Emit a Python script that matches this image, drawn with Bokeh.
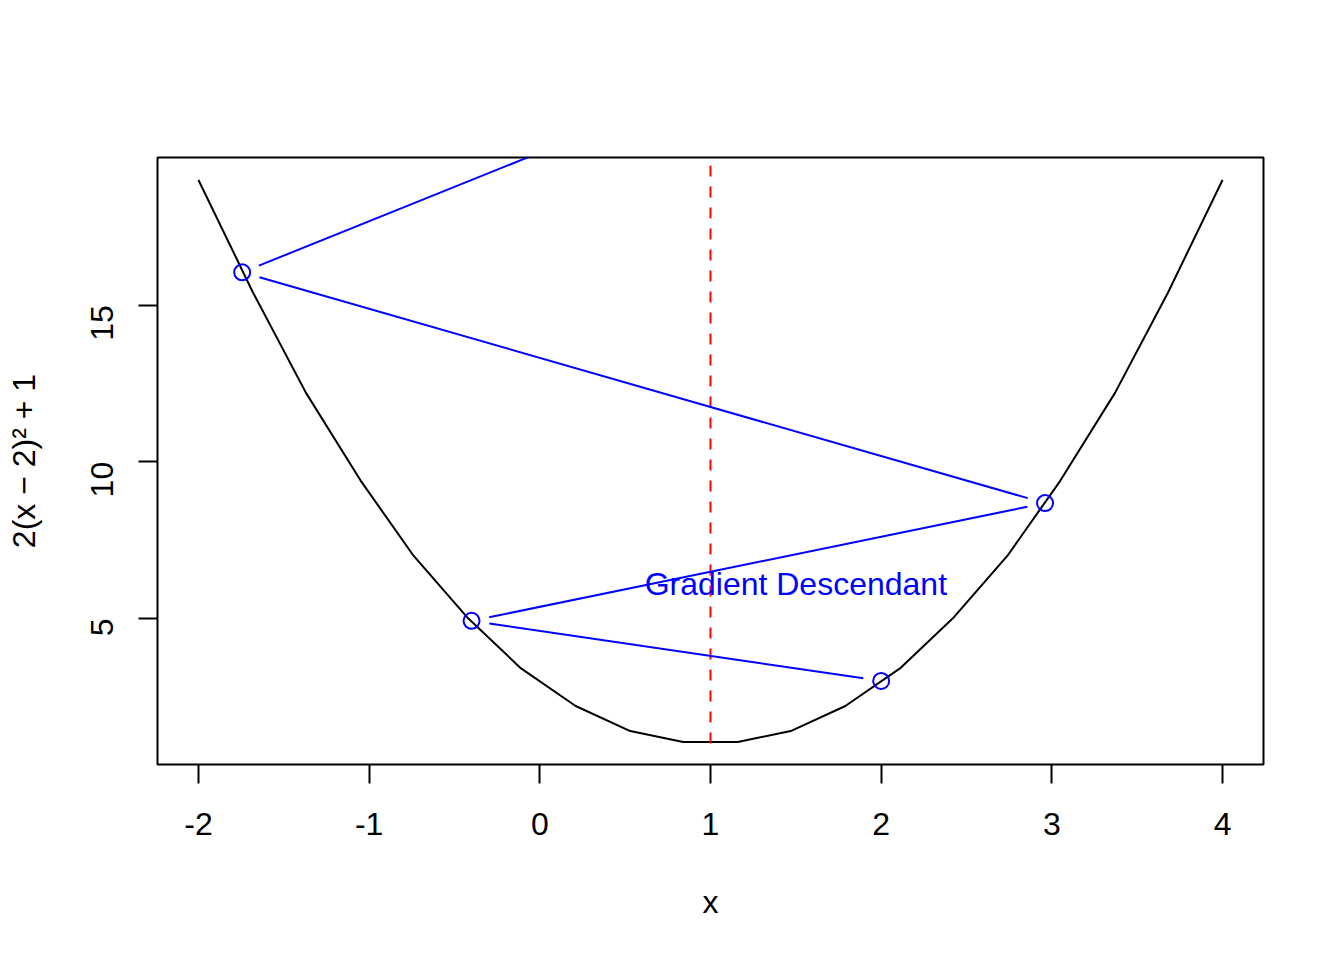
import math
from bokeh.plotting import figure
from bokeh.models import Range1d, FixedTicker
from bokeh.core.properties import value
from bokeh.embed import file_html
from bokeh.resources import INLINE

# ---- data ----
curve_x = [-2.00, -1.68, -1.37, -1.05, -0.74, -0.42, -0.11, 0.21, 0.53, 0.84,
           1.16, 1.47, 1.79, 2.11, 2.42, 2.74, 3.05, 3.37, 3.68, 4.00]
curve_y = [19.0, 15.4, 12.2, 9.4, 7.0, 5.0, 3.4, 2.2, 1.4, 1.05,
           1.05, 1.4, 2.2, 3.4, 5.0, 7.0, 9.4, 12.2, 15.4, 19.0]

gd_x = [2.0, -0.4, 2.96, -1.744, 4.842]
gd_y = [3.0, 4.92, 8.68, 16.05, 30.5]

vline_x = [1.0]
vline_y0 = [1.0]
vline_y1 = [20.0]

label_x = [1.5]
label_y = [6.1]
label_text = ["Gradient Descendant"]

x_ticks = [-2, -1, 0, 1, 2, 3, 4]
x_tick_labels = ["-2", "-1", "0", "1", "2", "3", "4"]
y_ticks = [5, 10, 15]

# ---- layout ----
W, H = 1328, 944
ML, MR, MT, MB = 157, 65, 157, 180
FW, FH = W - ML - MR, H - MT - MB
XR = (-2.24, 4.24)
YR = (0.332, 19.718)
FONT = "Liberation Sans"
FS = "32px"

p = figure(width=W, height=H, output_backend="svg", toolbar_location=None,
           x_range=Range1d(*XR), y_range=Range1d(*YR),
           min_border_left=ML, min_border_right=MR,
           min_border_top=MT, min_border_bottom=MB)
p.background_fill_color = "white"
p.border_fill_color = "white"
p.outline_line_color = "black"
p.outline_line_width = 2
p.xgrid.visible = False
p.ygrid.visible = False

for ax in (p.xaxis[0], p.yaxis[0]):
    ax.axis_line_color = None
    ax.major_tick_line_color = "black"
    ax.major_tick_line_width = 2
    ax.major_tick_out = 19
    ax.major_tick_in = 0
    ax.minor_tick_line_color = None
    ax.major_label_text_font = FONT
    ax.major_label_text_font_size = FS
    ax.major_label_text_color = "black"
    ax.axis_label_text_font = FONT
    ax.axis_label_text_font_size = FS
    ax.axis_label_text_font_style = "normal"
    ax.axis_label_text_color = "black"

p.xaxis.ticker = FixedTicker(ticks=x_ticks)
p.xaxis.major_label_overrides = {t: s for t, s in zip(x_ticks, x_tick_labels)}
p.yaxis.ticker = FixedTicker(ticks=y_ticks)
p.xaxis.major_label_standoff = 29
p.xaxis.axis_label = "x"
p.xaxis.axis_label_standoff = 46
p.yaxis.major_label_orientation = math.pi / 2
p.yaxis.major_label_standoff = 36
p.yaxis.axis_label = "2(x \u2212 2)\u00b2 + 1"
p.yaxis.axis_label_standoff = 36

# curve
p.line(curve_x, curve_y, line_color="black", line_width=2)

# red dashed vertical line
p.segment(x0=vline_x, y0=vline_y0, x1=vline_x, y1=vline_y1,
          line_color="red", line_width=2, line_dash="11 10")

# gradient descent path (type="b": gaps around points)
sx = FW / (XR[1] - XR[0])
sy = FH / (YR[1] - YR[0])
GAP = 18.0
x0s, y0s, x1s, y1s = [], [], [], []
for i in range(len(gd_x) - 1):
    ax_, ay_ = gd_x[i] * sx, gd_y[i] * sy
    bx_, by_ = gd_x[i + 1] * sx, gd_y[i + 1] * sy
    dx, dy = bx_ - ax_, by_ - ay_
    L = math.hypot(dx, dy)
    ux, uy = dx / L, dy / L
    x0s.append((ax_ + ux * GAP) / sx)
    y0s.append((ay_ + uy * GAP) / sy)
    x1s.append((bx_ - ux * GAP) / sx)
    y1s.append((by_ - uy * GAP) / sy)
p.segment(x0=x0s, y0=y0s, x1=x1s, y1=y1s, line_color="blue", line_width=2)
p.scatter(gd_x, gd_y, marker="circle", size=16, fill_color=None,
          line_color="blue", line_width=2)

p.text(x=label_x, y=label_y, text=label_text, text_color="blue",
       text_font=value(FONT), text_font_size=FS,
       text_align="center", text_baseline="middle")

open("out.html", "w").write(file_html(p, INLINE))
